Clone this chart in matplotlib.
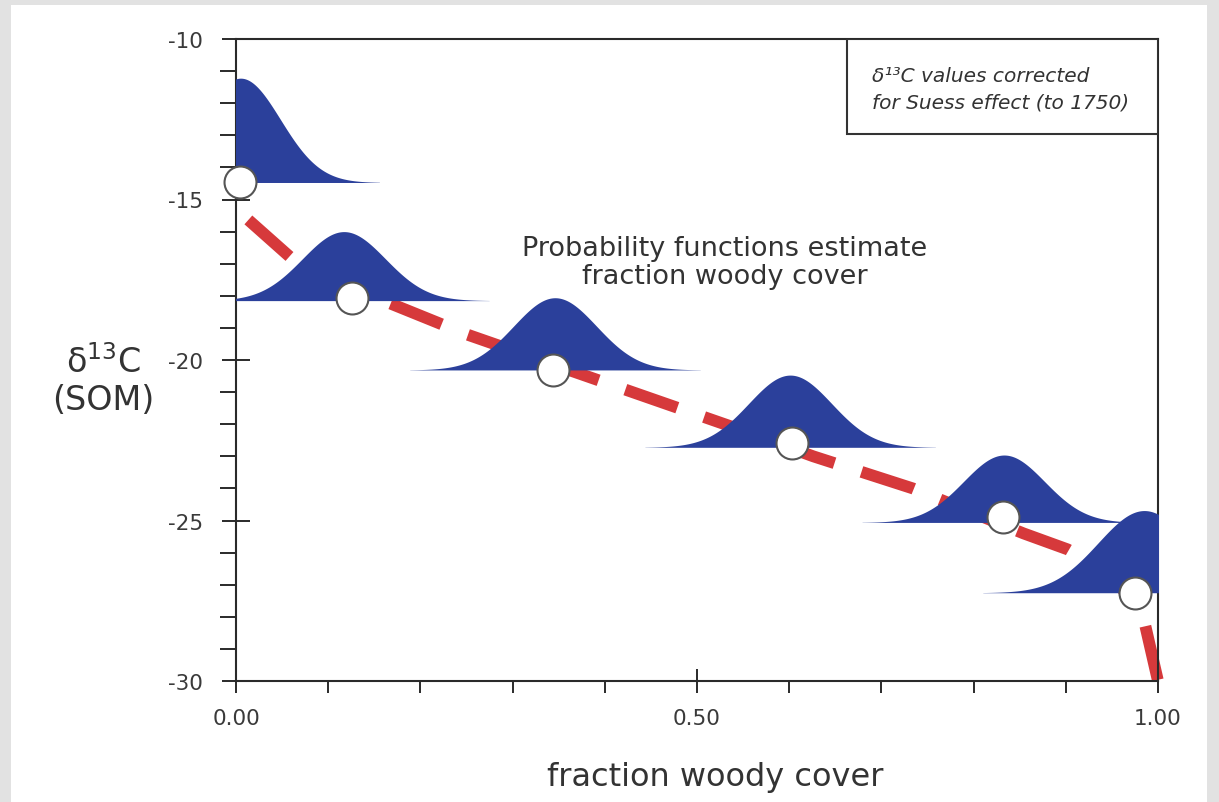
import matplotlib.pyplot as plt
import matplotlib.patches as patches
import numpy as np

plt.rcParams['font.family'] = ['DejaVu Sans']
plt.rcParams['axes.unicode_minus'] = False

# white circles: measured d13C of soil organic matter
circle_x = [0.004, 0.126, 0.344, 0.603, 0.832, 0.975]
circle_y = [-14.47, -18.06, -20.31, -22.6, -24.9, -27.27]

# probability functions (peak x, baseline, peak height, spread)
pdf_center = [0.005, 0.117, 0.346, 0.601, 0.833, 0.985]
pdf_base = [-14.47, -18.15, -20.31, -22.72, -25.06, -27.25]
pdf_height = [3.25, 2.15, 2.25, 2.25, 2.1, 2.56]
pdf_sigma = [0.043, 0.045, 0.045, 0.045, 0.044, 0.05]

# mixing curve (red dashed)
mix_x = [0.0, 0.012, 0.059, 0.164, 0.25, 0.42, 0.54, 0.626, 0.734, 0.854, 0.902, 0.95, 0.984, 1.0]
mix_y = [-15.3, -15.6, -16.8, -18.2, -19.2, -20.9, -22.1, -23.0, -24.0, -25.4, -25.9, -26.7, -28.0, -30.0]

xticks = [0.0, 0.5, 1.0]
xtick_labels = ['0.00', '0.50', '1.00']
yticks = [-30, -25, -20, -15, -10]
ytick_labels = ['-30', '-25', '-20', '-15', '-10']

navy = '#2b409b'
red = '#d6393b'
ink = '#333333'

fig = plt.figure(figsize=(12.19, 8.03), dpi=100)
fig.patch.set_facecolor('#e2e2e2')
fig.patches.append(patches.Rectangle((11 / 1219, 0), 1196 / 1219, 797 / 803,
                                     transform=fig.transFigure, facecolor='white',
                                     edgecolor='none', zorder=-10))

ax = fig.add_axes([236 / 1219, (803 - 682) / 803, 922 / 1219, 642 / 803])
ax.set_facecolor('white')
ax.set_xlim(0, 1)
ax.set_ylim(-30, -10)

# red mixing line under everything
ax.plot(mix_x, mix_y, color=red, lw=8.5, linestyle=(5.67, (4.66, 2.4)),
        zorder=2, clip_on=False)

# probability bumps
for c, b, h, s in zip(pdf_center, pdf_base, pdf_height, pdf_sigma):
    xg = np.linspace(c - 3.5 * s, c + 3.5 * s, 300)
    yg = b + h * np.exp(-0.5 * ((xg - c) / s) ** 2)
    ax.fill_between(xg, b, yg, color=navy, lw=0, zorder=3)

ax.plot(circle_x, circle_y, 'o', ms=23, mfc='white', mec='#555555', mew=1.5,
        zorder=4, clip_on=False)

ax.text(0.53, -16.94, 'Probability functions estimate\nfraction woody cover',
        ha='center', va='center', fontsize=19.5, color=ink, linespacing=1.1)

# note box in the upper right corner
ax.add_patch(patches.Rectangle((0.6627, 0.8516), 0.3373, 0.1484, transform=ax.transAxes,
                               facecolor='white', edgecolor=ink, lw=1.5, zorder=5))
ax.text(0.69, 0.922, 'δ¹³C values corrected\nfor Suess effect (to 1750)',
        transform=ax.transAxes, ha='left', va='center', fontsize=14.5,
        style='italic', color=ink, linespacing=1.5, zorder=6)

for sp in ax.spines.values():
    sp.set_linewidth(1.5)
    sp.set_color('#2a2a2a')

ax.set_xticks(xticks)
ax.set_xticklabels(xtick_labels)
ax.set_xticks(np.arange(0.1, 1.0, 0.1), minor=True)
ax.set_yticks(yticks)
ax.set_yticklabels(ytick_labels)
ax.set_yticks(np.arange(-29, -10, 1), minor=True)

ax.tick_params(axis='y', which='major', direction='inout', length=20, width=1.4,
               color='#2a2a2a', labelsize=15.5, labelcolor='#3a3a3a', pad=13.5)
ax.tick_params(axis='y', which='minor', direction='out', length=11.5, width=1.4,
               color='#2a2a2a')
ax.tick_params(axis='x', which='major', direction='inout', length=17, width=1.4,
               color='#2a2a2a', labelsize=15.5, labelcolor='#3a3a3a', pad=11)
ax.tick_params(axis='x', which='minor', direction='out', length=8.6, width=1.4,
               color='#2a2a2a')

fig.text(715 / 1219, 1 - 778 / 803, 'fraction woody cover', ha='center', va='center',
         fontsize=23, color=ink)
fig.text(103 / 1219, 1 - 381 / 803, 'δ$^{13}$C\n(SOM)', ha='center', va='center',
         fontsize=24, color=ink, linespacing=1.17, multialignment='center')

fig.savefig('out.png', dpi=100, facecolor=fig.get_facecolor())
